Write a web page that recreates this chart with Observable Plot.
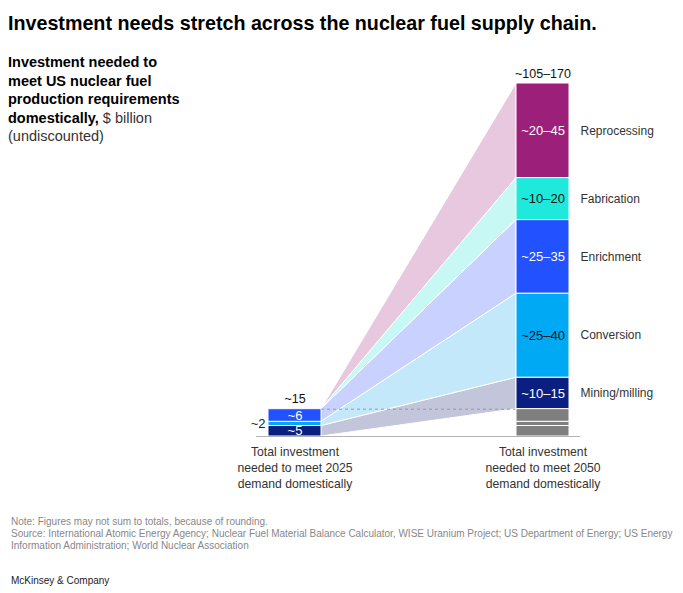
<!DOCTYPE html>
<html>
<head>
<meta charset="utf-8">
<script src="https://cdn.jsdelivr.net/npm/d3@7"></script>
<script src="https://cdn.jsdelivr.net/npm/@observablehq/plot@0.6"></script>
<style>
  html, body { margin: 0; padding: 0; background: #fff; }
  body { font-family: "Liberation Sans", Arial, sans-serif; }
  #wrap { position: relative; width: 683px; height: 593px; overflow: hidden; }
  #title { position: absolute; left: 8px; top: 11px; font-weight: bold; font-size: 19.7px; line-height: 24px; color: #000; white-space: nowrap; }
  #chart { position: absolute; left: 0; top: 40px; }
  #sub { position: absolute; left: 8px; top: 53px; font-size: 14.5px; line-height: 18.5px; color: #000; white-space: nowrap; }
  #sub b { font-weight: bold; }
  #sub span { color: #333; }
  #note { position: absolute; left: 11px; top: 516px; font-size: 10px; line-height: 12px; color: #888; white-space: nowrap; }
  #brand { position: absolute; left: 11px; top: 575px; font-size: 10px; line-height: 12px; color: #222; white-space: nowrap; }
</style>
</head>
<body>
<div id="wrap">
  <div id="title">Investment needs stretch across the nuclear fuel supply chain.</div>
  <div id="chart"></div>
  <div id="sub"><b>Investment needed to<br>meet US nuclear fuel<br>production requirements<br>domestically,</b> <span>$ billion<br>(undiscounted)</span></div>
  <div id="note">Note: Figures may not sum to totals, because of rounding.<br>Source: International Atomic Energy Agency; Nuclear Fuel Material Balance Calculator, WISE Uranium Project; US Department of Energy; US Energy<br>Information Administration; World Nuclear Association</div>
  <div id="brand">McKinsey &amp; Company</div>
</div>
<script>
// ---- Data ----
const stages = ["Mining/milling", "Conversion", "Enrichment", "Fabrication", "Reprocessing"];
// 2050 requirement, drawn at the upper bound of each range ($ billion)
const need2050 = [15, 40, 35, 20, 45];
const range2050Labels = ["~10–15", "~25–40", "~25–35", "~10–20", "~20–45"];
// 2025 requirement by stage ($ billion)
const need2025 = [5, 2, 6, 0, 0];
const label2025 = ["~5", "~2", "~6", "", ""];
const total2025Label = "~15";
const total2050Label = "~105–170";
const periodLabels = ["Total investment\nneeded to meet 2025\ndemand domestically", "Total investment\nneeded to meet 2050\ndemand domestically"];

const barColors = ["#0A1F7F", "#00A9F4", "#2251FF", "#1FE9DB", "#9C1F79"];
const fanColors = ["#C3C6DB", "#C2E8FA", "#C9D1FE", "#C8F8F4", "#E7C8DF"];
const labelInk = ["#fff", "#111", "#fff", "#111", "#fff"];
const gray = "#7F7F7F";

// ---- Derived tables ----
const hw = 26.5 / 248; // half bar width in x units
const bars = [];
const fans = [];
const inLabels = [];
let c25 = 0;
const base25 = d3.sum(need2025);
let c50 = base25;
stages.forEach((s, i) => {
  const l0 = c25, l1 = c25 + need2025[i];
  const r0 = c50, r1 = c50 + need2050[i];
  if (need2025[i] > 0) {
    bars.push({x1: -hw, x2: hw, y1: l0, y2: l1, fill: barColors[i]});
    bars.push({x1: 1 - hw, x2: 1 + hw, y1: l0, y2: l1, fill: gray});
  }
  bars.push({x1: 1 - hw, x2: 1 + hw, y1: r0, y2: r1, fill: barColors[i]});
  fans.push({stage: s, x: hw, y1: l0, y2: l1, fill: fanColors[i]});
  fans.push({stage: s, x: 1 - hw, y1: r0, y2: r1, fill: fanColors[i]});
  inLabels.push({x: 1, y: (r0 + r1) / 2, text: range2050Labels[i], ink: labelInk[i]});
  if (label2025[i] && i !== 1) inLabels.push({x: 0, y: (l0 + l1) / 2, text: label2025[i], ink: "#fff"});
  c25 = l1; c50 = r1;
});
const stageLabels = stages.map((s, i) => ({text: s, y: (inLabels.find(d => d.text === range2050Labels[i]).y)}));
const total50 = c50;

const chart = Plot.plot({
  width: 683,
  height: 460,
  marginTop: 0, marginBottom: 0, marginLeft: 0, marginRight: 0,
  x: {domain: [0, 1], range: [294.5, 542.5], axis: null},
  y: {domain: [0, total50], range: [396, 43], axis: null},
  color: {type: "identity"},
  style: {fontFamily: "'Liberation Sans', Arial, sans-serif", fontSize: "12px", background: "transparent", overflow: "visible"},
  marks: [
    Plot.areaY(fans, {x: "x", y1: "y1", y2: "y2", z: "stage", fill: "fill", stroke: "#fff", strokeWidth: 1, curve: "linear"}),
    Plot.ruleY([base25], {x1: hw, x2: 1 - hw, stroke: "#999", strokeDasharray: "3,3", strokeWidth: 1}),
    Plot.rect(bars, {x1: "x1", x2: "x2", y1: "y1", y2: "y2", fill: "fill", stroke: "#fff", strokeWidth: 1}),
    Plot.ruleY([0], {x1: -hw - 0.048, x2: 1 + hw + 0.045, stroke: "#b3b3b3", strokeWidth: 1.2}),
    Plot.text(inLabels, {x: "x", y: "y", text: "text", fill: "ink", fontSize: 13}),
    Plot.text([label2025[1]], {x: -hw, y: need2025[0] + need2025[1] / 2, text: d => d, dx: -3, textAnchor: "end", fill: "#222", fontSize: 13}),
    Plot.text(stageLabels, {x: 1 + hw, y: "y", text: "text", dx: 11, textAnchor: "start", fill: "#333", fontSize: 12}),
    Plot.text([{x: 0, y: base25, t: total2025Label}, {x: 1, y: total50, t: total2050Label}], {x: "x", y: "y", text: "t", dy: -10, fill: "#111", fontSize: 12.5}),
    Plot.text([0, 1], {x: d => d, y: 0, text: d => periodLabels[d], dy: 8.5, lineAnchor: "top", lineHeight: 1.3, fill: "#333", fontSize: 12.2})
  ]
});
document.getElementById("chart").appendChild(chart);
</script>
</body>
</html>
